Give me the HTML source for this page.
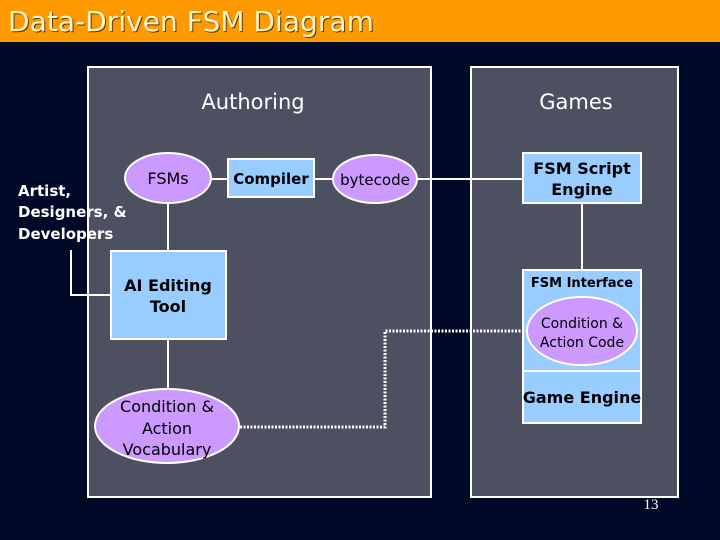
<!DOCTYPE html>
<html><head><meta charset="utf-8"><style>
html,body{margin:0;padding:0;background:#000a28;}
svg{display:block;font-family:"DejaVu Sans","Liberation Sans",sans-serif;}
</style></head><body>
<svg width="720" height="540" viewBox="0 0 720 540" xmlns="http://www.w3.org/2000/svg">
<rect width="720" height="540" fill="#000a28"/>
<rect width="720" height="42" fill="#ff9900"/>
<text x="9" y="32" font-size="28" fill="#5a3a00" font-family="DejaVu Sans" textLength="366" lengthAdjust="spacingAndGlyphs">Data-Driven FSM Diagram</text>
<text x="8" y="31" font-size="28" fill="#fff4cc" font-family="DejaVu Sans" textLength="366" lengthAdjust="spacingAndGlyphs">Data-Driven FSM Diagram</text>
<rect x="88" y="67" width="343" height="430" fill="#4d5060" stroke="#fff" stroke-width="2"/>
<rect x="471" y="67" width="207" height="430" fill="#4d5060" stroke="#fff" stroke-width="2"/>
<text x="253" y="109" font-size="21" fill="#fff" text-anchor="middle">Authoring</text>
<text x="576" y="109" font-size="21" fill="#fff" text-anchor="middle">Games</text>
<g stroke="#fff" stroke-width="2" fill="none">
<line x1="211" y1="179" x2="228" y2="179"/>
<line x1="314" y1="179" x2="333" y2="179"/>
<line x1="417" y1="179" x2="523" y2="179"/>
<line x1="168" y1="203" x2="168" y2="251"/>
<line x1="168" y1="339" x2="168" y2="388"/>
<line x1="582" y1="203" x2="582" y2="270"/>
<polyline points="71,250 71,295 111,295"/>
<polyline points="240,427 385,427 385,331 527,331" stroke-dasharray="2,1.5" stroke-width="3"/>
</g>
<ellipse cx="168" cy="178" rx="43" ry="25" fill="#cc99ff" stroke="#fff" stroke-width="2"/>
<text x="168" y="184" font-size="16" fill="#000" text-anchor="middle">FSMs</text>
<rect x="228" y="159" width="86" height="38" fill="#99ccff" stroke="#fff" stroke-width="2"/>
<text x="271" y="184" font-size="15" font-weight="bold" fill="#000" text-anchor="middle">Compiler</text>
<ellipse cx="375" cy="179" rx="42" ry="24" fill="#cc99ff" stroke="#fff" stroke-width="2"/>
<text x="375" y="185" font-size="15" fill="#000" text-anchor="middle">bytecode</text>
<rect x="523" y="153" width="118" height="50" fill="#99ccff" stroke="#fff" stroke-width="2"/>
<text x="582" y="174" font-size="16" font-weight="bold" fill="#000" text-anchor="middle">FSM Script</text>
<text x="582" y="195" font-size="16" font-weight="bold" fill="#000" text-anchor="middle">Engine</text>
<rect x="111" y="251" width="115" height="88" fill="#99ccff" stroke="#fff" stroke-width="2"/>
<text x="168" y="291" font-size="16" font-weight="bold" fill="#000" text-anchor="middle">AI Editing</text>
<text x="168" y="312" font-size="16" font-weight="bold" fill="#000" text-anchor="middle">Tool</text>
<ellipse cx="167" cy="426" rx="72" ry="37" fill="#cc99ff" stroke="#fff" stroke-width="2"/>
<text x="167" y="412" font-size="16" fill="#000" text-anchor="middle">Condition &amp;</text>
<text x="167" y="434" font-size="16" fill="#000" text-anchor="middle">Action</text>
<text x="167" y="455" font-size="16" fill="#000" text-anchor="middle">Vocabulary</text>
<rect x="523" y="270" width="118" height="153" fill="#99ccff" stroke="#fff" stroke-width="2"/>
<line x1="523" y1="371" x2="641" y2="371" stroke="#fff" stroke-width="2"/>
<text x="582" y="287" font-size="13" font-weight="bold" fill="#000" text-anchor="middle">FSM Interface</text>
<ellipse cx="582" cy="331" rx="55" ry="34" fill="#cc99ff" stroke="#fff" stroke-width="2"/>
<text x="582" y="328" font-size="14" fill="#000" text-anchor="middle">Condition &amp;</text>
<text x="582" y="347" font-size="14" fill="#000" text-anchor="middle">Action Code</text>
<text x="582" y="403" font-size="16" font-weight="bold" fill="#000" text-anchor="middle">Game Engine</text>
<text x="18" y="196" font-size="15" font-weight="bold" fill="#fff">Artist,</text>
<text x="18" y="217" font-size="15" font-weight="bold" fill="#fff">Designers, &amp;</text>
<text x="18" y="239" font-size="15" font-weight="bold" fill="#fff">Developers</text>
<text x="651" y="509" font-size="15" fill="#fff" text-anchor="middle" font-family="Liberation Serif">13</text>
</svg>
</body></html>
